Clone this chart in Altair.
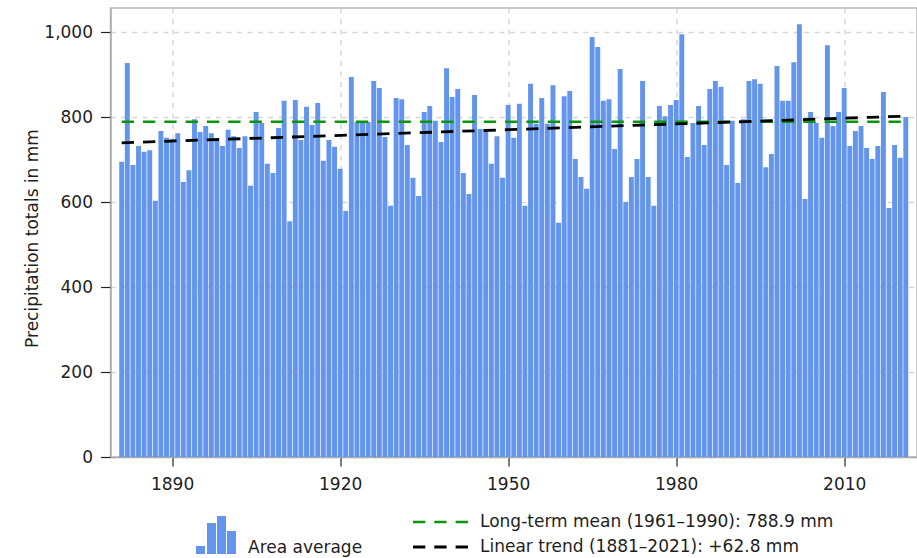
import altair as alt
import pandas as pd

# ---------------- data ----------------
years = list(range(1881, 2022))
precip = [
    695, 927, 687, 732, 718, 722, 603, 767, 751, 748,   # 1881-1890
    762, 647, 675, 795, 765, 779, 762, 745, 732, 770,   # 1891-1900
    755, 727, 755, 638, 812, 786, 690, 668, 774, 838,   # 1901-1910
    555, 840, 746, 824, 781, 833, 697, 746, 730, 678,   # 1911-1920
    579, 894, 788, 788, 788, 885, 868, 753, 591, 845,   # 1921-1930
    842, 734, 657, 614, 812, 826, 791, 741, 915, 847,   # 1931-1940
    866, 668, 619, 852, 772, 770, 690, 755, 657, 828,   # 1941-1950
    751, 831, 591, 878, 784, 845, 784, 875, 551, 849,   # 1951-1960
    861, 701, 659, 631, 988, 965, 838, 842, 725, 913,   # 1961-1970
    600, 659, 701, 885, 659, 591, 826, 802, 828, 840,   # 1971-1980
    995, 706, 786, 826, 734, 866, 885, 871, 687, 791,   # 1981-1990
    645, 795, 885, 889, 878, 682, 713, 920, 838, 838,   # 1991-2000
    929, 1018, 607, 812, 786, 751, 969, 779, 812, 868,  # 2001-2010
    732, 767, 779, 727, 701, 732, 859, 586, 734, 704,   # 2011-2020
    800,                                                # 2021
]
mean_years = [1881, 2021]
mean_values = [788.9, 788.9]
trend_years = [1881, 2021]
trend_values = [739.3, 802.1]

series_bars = "Area average"
series_mean = "Long-term mean (1961–1990): 788.9 mm"
series_trend = "Linear trend (1881–2021): +62.8 mm"
x_tick_values = [1890, 1920, 1950, 1980, 2010]
y_tick_values = [0, 200, 400, 600, 800, 1000]
y_title = "Precipitation totals in mm"

# ---------------- tables ----------------
bars_df = pd.DataFrame({"year": years, "value": precip, "series": series_bars})
mean_df = pd.DataFrame({"year": mean_years, "value": mean_values, "series": series_mean})
trend_df = pd.DataFrame({"year": trend_years, "value": trend_values, "series": series_trend})

# ---------------- styles ----------------
FONT = "DejaVu Sans"
TXT = "#1e1e1e"
BAR = "#6495ED"
GREEN = "#0a960a"
BLACK = "#000000"
DASH = [12.3, 9]

x_scale = alt.Scale(domain=[1879, 2023], nice=False, zero=False)
y_scale = alt.Scale(domain=[0, 1056.5], nice=False)

x_axis = alt.Axis(
    values=x_tick_values, format="d", title=None,
    labelFont=FONT, labelFontSize=17, labelColor=TXT,
    tickSize=9, tickColor="#222222", tickWidth=1.2, labelPadding=10.5,
    domainColor="#aaaaaa", domainWidth=1.5,
    grid=True, gridDash=[5, 5.5], gridColor="#d6d6d6", gridWidth=1.5,
)
y_axis = alt.Axis(
    values=y_tick_values, format=",.0f",
    labelFont=FONT, labelFontSize=17, labelColor=TXT,
    tickSize=10, tickColor="#222222", tickWidth=1.2, labelPadding=8,
    domainColor="#aaaaaa", domainWidth=1.5,
    grid=True, gridDash=[5, 5.5], gridColor="#d6d6d6", gridWidth=1.5,
    title=y_title, titleFont=FONT, titleFontSize=17, titleFontWeight="normal",
    titleColor=TXT, titleAngle=270, titleAlign="center", titleBaseline="alphabetic",
    titleX=-73.3, titleY=230,
)

bar_icon = ("M-1,-0.1H-0.55V0.3H-1Z "
            "M-0.45,-1.25H0V0.3H-0.45Z "
            "M0.05,-1.6H0.5V0.3H0.05Z "
            "M0.55,-0.85H1V0.3H0.55Z")

bar_legend = alt.Legend(
    title=None, orient="none", legendX=85.5, legendY=520, padding=0,
    symbolType=bar_icon, symbolSize=1600, symbolStrokeWidth=0, symbolOpacity=1,
    labelFont=FONT, labelFontSize=17, labelColor=TXT, labelOffset=12, labelLimit=600,
)
mean_legend = alt.Legend(
    title=None, orient="none", legendX=301, legendY=485, padding=0,
    symbolType="stroke", symbolSize=3025, symbolStrokeWidth=2.5, symbolDash=DASH,
    symbolOpacity=1,
    labelFont=FONT, labelFontSize=17, labelColor=TXT, labelOffset=10.5, labelLimit=600,
)
trend_legend = alt.Legend(
    title=None, orient="none", legendX=301, legendY=510, padding=0,
    symbolType="stroke", symbolSize=3025, symbolStrokeWidth=2.8, symbolDash=DASH,
    symbolOpacity=1,
    labelFont=FONT, labelFontSize=17, labelColor=TXT, labelOffset=10.5, labelLimit=600,
)

bars = alt.Chart(bars_df).transform_calculate(
    x_start="datum.year - 0.44", x_end="datum.year + 0.44", base="0"
).mark_rect(opacity=1).encode(
    x=alt.X("x_start:Q", scale=x_scale, axis=x_axis, title=None),
    x2="x_end:Q",
    y=alt.Y("value:Q", scale=y_scale, axis=y_axis, title=y_title),
    y2="base:Q",
    fill=alt.Fill("series:N", scale=alt.Scale(domain=[series_bars], range=[BAR]),
                  legend=bar_legend),
)

mean_line = alt.Chart(mean_df).mark_line(strokeDash=DASH, strokeWidth=2.5).encode(
    x=alt.X("year:Q", title=None),
    y=alt.Y("value:Q", title=y_title),
    stroke=alt.Stroke("series:N", scale=alt.Scale(domain=[series_mean], range=[GREEN]),
                      legend=mean_legend),
)

trend_line = alt.Chart(trend_df).mark_line(strokeDash=DASH, strokeWidth=2.8).encode(
    x=alt.X("year:Q", title=None),
    y=alt.Y("value:Q", title=y_title),
    stroke=alt.Stroke("series:N", scale=alt.Scale(domain=[series_trend], range=[BLACK]),
                      legend=trend_legend),
)

chart = alt.layer(bars, mean_line, trend_line).resolve_scale(
    stroke="independent"
).properties(
    width=806.5, height=449,
    autosize=alt.AutoSizeParams(type="none"),
    padding={"left": 110.5, "top": 8, "right": 0, "bottom": 101},
    background="white",
).configure(
    font=FONT,
).configure_view(
    stroke="#b8b8b8", strokeWidth=1.5,
)

chart.save("out.html", embed_options={"renderer": "svg", "actions": False})
